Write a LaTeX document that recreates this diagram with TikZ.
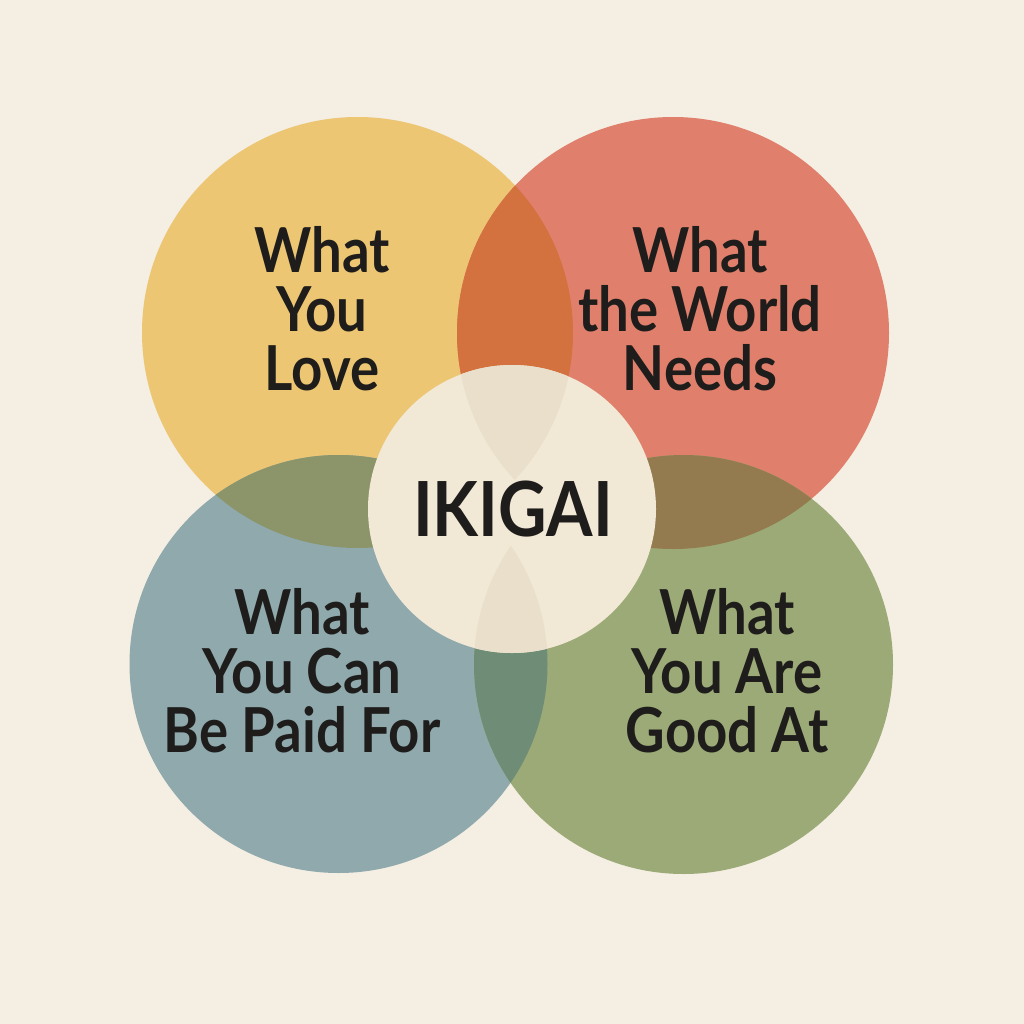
\documentclass[tikz,border=0pt]{standalone}
\usepackage{fontspec}
\newfontfamily\labfont[FakeStretch=0.88]{Lato}
\definecolor{bg}{HTML}{F4EEE3}
\definecolor{cyel}{HTML}{ECC672}
\definecolor{cred}{HTML}{E0806C}
\definecolor{cblue}{HTML}{8FA9AD}
\definecolor{cgreen}{HTML}{9BAA76}
\definecolor{lyr}{HTML}{D3713F}
\definecolor{lyb}{HTML}{8C9469}
\definecolor{lrg}{HTML}{937A4F}
\definecolor{lbg}{HTML}{6F8C76}
\definecolor{ccen}{HTML}{F1E8D6}
\definecolor{clens}{HTML}{E9DFCB}
\definecolor{ink}{HTML}{1E1D1B}
\tikzset{
  lab/.style={font=\labfont\bfseries\fontsize{62}{59}\selectfont, text=ink, align=center, inner sep=0pt},
  ikilab/.style={font=\labfont\bfseries\fontsize{76}{76}\selectfont, text=ink, inner sep=0pt}
}
\begin{document}
\begin{tikzpicture}[x=1pt,y=-1pt]
\fill[bg] (0,0) rectangle (1024,1024);
\useasboundingbox (0,0) rectangle (1024,1024);
\coordinate (Y) at (357.5,332.5);
\coordinate (R) at (673,333);
\coordinate (B) at (338.5,664);
\coordinate (G) at (683.5,664.5);
\coordinate (C) at (512,509);
\def\rY{215.5}\def\rR{216}\def\rB{209}\def\rG{209.5}\def\rC{144}
% base circles
\fill[cyel] (Y) circle[radius=\rY];
\fill[cred] (R) circle[radius=\rR];
\fill[cblue] (B) circle[radius=\rB];
\fill[cgreen] (G) circle[radius=\rG];
% overlaps
\begin{scope}\clip (Y) circle[radius=\rY]; \fill[lyr] (R) circle[radius=\rR];\end{scope}
\begin{scope}\clip (Y) circle[radius=\rY]; \fill[lyb] (B) circle[radius=\rB];\end{scope}
\begin{scope}\clip (R) circle[radius=\rR]; \fill[lrg] (G) circle[radius=\rG];\end{scope}
\begin{scope}\clip (B) circle[radius=\rB]; \fill[lbg] (G) circle[radius=\rG];\end{scope}
% center circle
\fill[ccen] (C) circle[radius=\rC];
\begin{scope}
  \clip (C) circle[radius=\rC];
  \begin{scope}\clip (Y) circle[radius=\rY]; \fill[clens] (R) circle[radius=\rR];\end{scope}
  \begin{scope}\clip (B) circle[radius=\rB]; \fill[clens] (G) circle[radius=\rG];\end{scope}
\end{scope}
% labels
\node[lab] (love) at (322,309) {What\\You\\Love};
\node[lab] (world) at (700,309) {What\\the World\\Needs};
\node[lab] (paid) at (302,671) {What\\You Can\\Be Paid For};
\node[lab] (good) at (727,671) {What\\You Are\\Good At};
\node[ikilab] (iki) at (513,509) {IKIGAI};
\end{tikzpicture}
\end{document}
